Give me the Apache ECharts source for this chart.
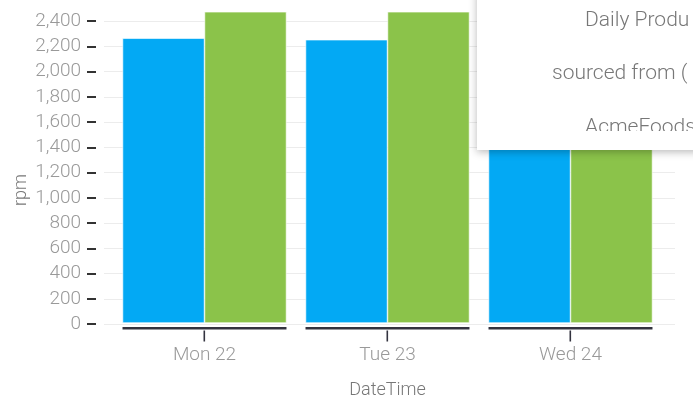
<!DOCTYPE html>
<html>
<head>
<meta charset="utf-8">
<script src="https://cdn.jsdelivr.net/npm/echarts@6/dist/echarts.min.js"></script>
<style>html,body{margin:0;padding:0;background:#fff;}#c{width:693px;height:404px;}</style>
</head>
<body>
<div id="c"></div>
<script>
const categories = ['Mon 22', 'Tue 23', 'Wed 24'];
const seriesA = [2263, 2251, 2245];
const seriesB = [2473, 2473, 2470];
const yTicks = [0, 200, 400, 600, 800, 1000, 1200, 1400, 1600, 1800, 2000, 2200, 2400];
const yRange = { min: 0, max: 2500, interval: 200 };
const axisName = { x: 'DateTime', y: 'rpm' };
const overlayLines = ['Daily Produ', 'sourced from (', 'AcmeFoods'];

const chart = echarts.init(document.getElementById('c'), null, { renderer: 'canvas' });
const FONT = 'Roboto';
const labelColor = '#999999';
const nameColor = '#777777';

const option = {
  animation: false,
  backgroundColor: '#fff',
  grid: [
    { left: 104, right: 18, top: 8.4, bottom: 80 },
    { left: 113, right: 31, top: 8.4, bottom: 80 }
  ],
  xAxis: [
    { gridIndex: 0, type: 'category', data: categories, show: false },
    {
      gridIndex: 1, type: 'category', data: categories, offset: 12,
      axisLine: { show: false },
      axisTick: { show: false },
      axisLabel: { color: labelColor, fontFamily: FONT, fontSize: 19, fontWeight: 300, margin: 11 },
      name: axisName.x, nameLocation: 'middle', nameGap: 46,
      nameTextStyle: { color: nameColor, fontFamily: FONT, fontSize: 18, fontWeight: 300 }
    }
  ],
  yAxis: [
    {
      gridIndex: 0, type: 'value', min: yRange.min, max: yRange.max, interval: yRange.interval, offset: 8,
      axisLine: { show: false },
      axisTick: { show: true, length: 9, customValues: yTicks, lineStyle: { color: '#333', width: 2 } },
      axisLabel: {
        color: labelColor, fontFamily: FONT, fontSize: 19, fontWeight: 300, margin: 15,
        customValues: yTicks,
        formatter: v => v.toLocaleString('en-US')
      },
      splitLine: { show: true, lineStyle: { color: '#ececec', width: 1 } }
    },
    { gridIndex: 1, type: 'value', min: yRange.min, max: yRange.max, interval: yRange.interval, show: false }
  ],
  series: [
    {
      name: 'A', type: 'bar', xAxisIndex: 1, yAxisIndex: 1, data: seriesA,
      barGap: '0%', barCategoryGap: '10.4%',
      itemStyle: { color: '#03a9f4', borderColor: '#fff', borderWidth: 0.6 }
    },
    {
      name: 'B', type: 'bar', xAxisIndex: 1, yAxisIndex: 1, data: seriesB,
      barGap: '0%', barCategoryGap: '10.4%',
      itemStyle: { color: '#8bc34a', borderColor: '#fff', borderWidth: 0.6 }
    },
    {
      type: 'custom', xAxisIndex: 1, yAxisIndex: 1,
      data: categories.map((c, i) => [i, 0]),
      renderItem: function (params, api) {
        const p = api.coord([api.value(0), 0]);
        const w = api.size([1, 0])[0] * 0.896;
        return {
          type: 'group',
          children: [
            {
              type: 'rect',
              shape: { x: p[0] - w / 2, y: p[1] + 4, width: w, height: 2.5 },
              style: { fill: '#33333f' }
            },
            {
              type: 'rect',
              shape: { x: p[0] - 1, y: p[1] + 7.5, width: 1.6, height: 11 },
              style: { fill: '#33333f' }
            }
          ]
        };
      },
      silent: true, z: 5
    }
  ],
  graphic: [
    {
      type: 'rect', left: 477, top: -10, z: 100,
      shape: { width: 240, height: 160 },
      style: { fill: '#fff', shadowBlur: 8, shadowColor: 'rgba(0,0,0,0.28)', shadowOffsetY: 2 }
    },
    { type: 'text', x: 585, y: 21, z: 101, style: { text: overlayLines[0], fill: nameColor, font: '300 21px Roboto', textVerticalAlign: 'middle' } },
    { type: 'text', x: 552, y: 74, z: 101, style: { text: overlayLines[1], fill: nameColor, font: '300 21px Roboto', textVerticalAlign: 'middle' } },
    { type: 'text', x: 585, y: 128, z: 101, style: { text: overlayLines[2], fill: nameColor, font: '300 21px Roboto', textVerticalAlign: 'middle' } },
    { type: 'rect', left: 478, top: 131, z: 102, shape: { width: 230, height: 19 }, style: { fill: '#fff' } },
    {
      type: 'text', x: 21, y: 190, rotation: Math.PI / 2, z: 50,
      style: { text: axisName.y, fill: nameColor, font: '300 18px Roboto', textAlign: 'center', textVerticalAlign: 'middle' }
    }
  ]
};
chart.setOption(option);
</script>
</body>
</html>
